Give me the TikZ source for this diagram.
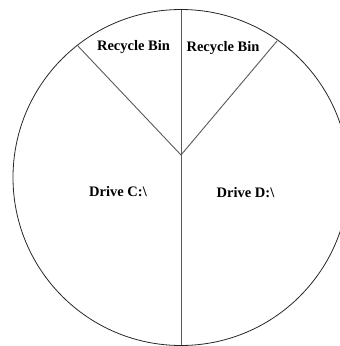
\documentclass[tikz,border=0pt]{standalone}
\usepackage{fontspec}
\setmainfont{Liberation Serif}
\begin{document}
\begin{tikzpicture}[x=1pt,y=-1pt,
  lbl/.style={font=\bfseries\fontsize{14.5}{16}\selectfont, inner sep=0pt},
  rim/.style={draw=black!85, line width=0.8pt},
  spoke/.style={draw=black!65, line width=0.9pt}]
\useasboundingbox (0,0) rectangle (340,346);
\clip (0,0) rectangle (340,346);
\coordinate (o) at (181,155);
\coordinate (top) at (181,10);
\coordinate (bot) at (181,345);
\coordinate (tl) at (77,45);
\coordinate (tr) at (277,41);
\draw[rim] (181,177.5) circle (168);
\draw[spoke] (top) -- (bot);
\draw[spoke] (tl) -- (o) -- (tr);
\node[lbl] (rb1) at (133.5,47) {Recycle Bin};
\node[lbl] (rb2) at (223,48) {Recycle Bin};
\node[lbl] (dc) at (118,192) {Drive C:\textbackslash};
\node[lbl] (dd) at (245.5,193) {Drive D:\textbackslash};
\end{tikzpicture}
\end{document}
